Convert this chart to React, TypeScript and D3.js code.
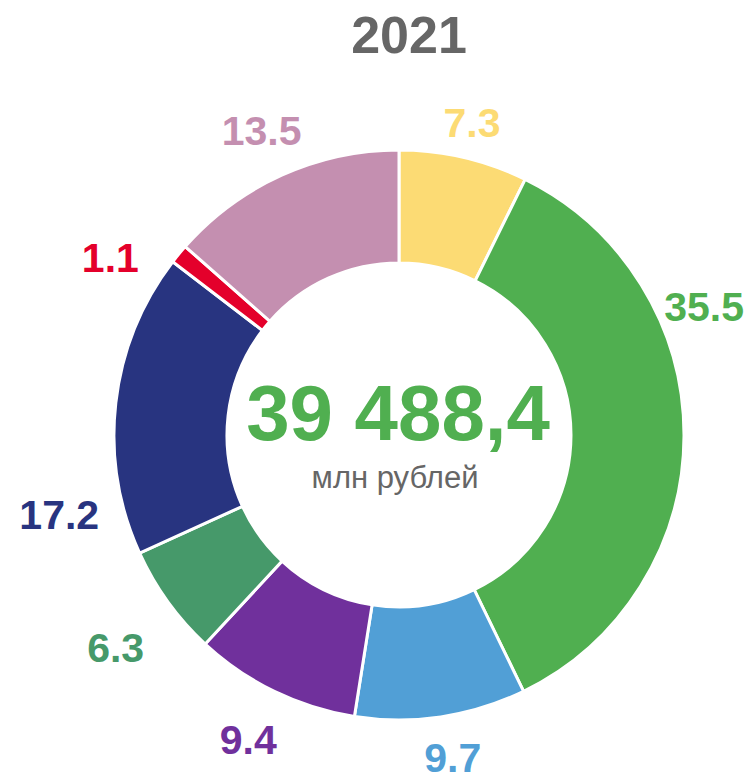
import React from "react";
import * as d3 from "d3";

const title = "2021";
const categories = ["A", "B", "C", "D", "E", "F", "G", "H"];
const values = [7.3, 35.5, 9.7, 9.4, 6.3, 17.2, 1.1, 13.5];
const colors = ["#FCDB74", "#50AF50", "#519FD6", "#70309C", "#46996A", "#283480", "#E4002B", "#C48FB0"];
const totalLabel = "39 488,4";
const unitLabel = "млн рублей";

// label layout (degrees shift from slice middle, and radius)
const labelShift = [0, -23, -1, 0.4, -1, -19.7, -7.8, 0];
const labelRadius = [321, 331, 327, 340, 354, 349, 339, 334];

const W = 751;
const H = 775;
const cx = 399;
const cy = 435;
const outerR = 285;
const innerR = 172;
const font = "'Liberation Sans', Arial, sans-serif";

export default function App() {
  const pie = d3.pie<number>().sort(null).value((d) => d);
  const arcs = pie(values);
  const arc = d3.arc<d3.PieArcDatum<number>>().innerRadius(innerR).outerRadius(outerR);
  const labelFont = 41;

  return (
    <svg width={W} height={H} style={{ position: "absolute", left: 0, top: 0, background: "#fff" }}>
      <text x={409} y={53} textAnchor="middle" fontFamily={font} fontWeight="bold" fontSize={52} fill="#666666">
        {title}
      </text>
      <g transform={`translate(${cx},${cy})`}>
        {arcs.map((a, i) => (
          <path key={categories[i]} d={arc(a) || ""} fill={colors[i]} stroke="#ffffff" strokeWidth={3} />
        ))}
        {arcs.map((a, i) => {
          const mid = (a.startAngle + a.endAngle) / 2 + (labelShift[i] * Math.PI) / 180;
          const r = labelRadius[i];
          const x = r * Math.sin(mid);
          const y = -r * Math.cos(mid);
          return (
            <text
              key={"l" + categories[i]}
              x={x}
              y={y + labelFont * 0.358}
              textAnchor="middle"
              fontFamily={font}
              fontWeight="bold"
              fontSize={labelFont}
              fill={colors[i]}
            >
              {values[i].toFixed(1)}
            </text>
          );
        })}
        <text x={-1} y={5} textAnchor="middle" fontFamily={font} fontWeight="bold" fontSize={78} fill="#50AF50">
          {totalLabel}
        </text>
        <text x={-4} y={53} textAnchor="middle" fontFamily={font} fontSize={31} fill="#666666">
          {unitLabel}
        </text>
      </g>
    </svg>
  );
}
